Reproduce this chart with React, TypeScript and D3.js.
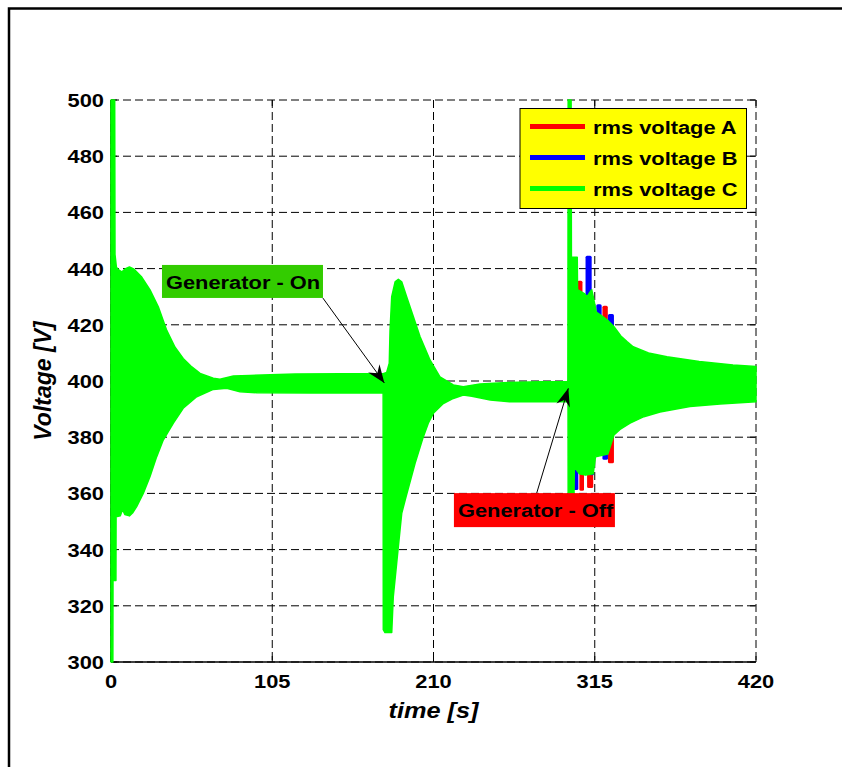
import React from 'react'
import * as d3 from 'd3'

const width = 842
const height = 767
const plot = { left: 111, right: 756, top: 100, bottom: 662 }

const xTicks = [0, 105, 210, 315, 420]
const yTicks = [300, 320, 340, 360, 380, 400, 420, 440, 460, 480, 500]

// envelope of the fast oscillation, phase C (the one on top) - [time s, volts]
const upperC = [
  [0, 500], [2.4, 500], [2.6, 445], [3.5, 440.5], [5, 439.5], [7, 438.8], [9.5, 440], [12, 440.6],
  [15, 439.8], [20, 437], [25.4, 432.4], [30.8, 426.4], [36.3, 418], [41.7, 412], [47, 408],
  [52, 405.3], [58, 402.7], [66.6, 401], [71, 400.6], [79.7, 401.8], [90.5, 402], [120, 402.5],
  [150, 402.6], [177.2, 402.6], [179.5, 403], [181.2, 406.3], [181.7, 418], [182.8, 430],
  [185, 435.3], [187.1, 436.2], [189.3, 435.3], [192.5, 430], [196.9, 422.9], [201.2, 415.8],
  [207.7, 407.5], [214.2, 401.5], [222.9, 398.6], [229.4, 398], [240.3, 398.9], [255.4, 399.4],
  [280, 399.7], [297.5, 399.8], [297.7, 500], [299.6, 500], [299.8, 444], [303.6, 444],
  [303.8, 432.5], [308.5, 431], [310, 430], [313, 432.5], [314, 430], [316, 424.5], [320, 423],
  [324, 421.3], [328, 419], [332, 416], [336, 414], [340, 412.2], [350, 410], [362, 408.6],
  [383, 406.9], [405, 405.7], [420, 405.2],
]

const lowerC = [
  [0, 300], [1.2, 300], [1.3, 329], [3.2, 329], [3.3, 351.7], [6, 352], [7.5, 354.3], [9, 352.5],
  [12, 352], [14, 353], [16.7, 355.3], [21, 360], [25.4, 366], [29.7, 373], [34, 379],
  [40.6, 385], [47, 390.3], [55.8, 394.4], [66.6, 397], [75.3, 397.4], [84, 396.2], [95, 395.8],
  [130, 395.7], [177.2, 395.7], [177.3, 311.5], [178.4, 310.5], [182.8, 310.5], [183.8, 323.2],
  [186, 335.1], [188.2, 347], [189.3, 352.9], [192.1, 358.8], [198, 370.7], [203.4, 380.2],
  [206.6, 385], [209.9, 388.5], [216.4, 392], [222.9, 393.8], [229.4, 395], [235, 394.6],
  [247, 393.2], [259.5, 392.6], [297.6, 392.6], [297.7, 360], [301.5, 360], [301.7, 369.5],
  [305, 367], [309, 366.5], [314, 367], [315.5, 373], [323.5, 374], [327.5, 380.8], [332, 383],
  [338, 385], [347, 387.3], [357.5, 389], [377, 390.9], [396.6, 391.8], [420, 392.6],
]

// where phases A and B stick out of C after the generator trips - [t start, t end, peak volts]
const spikesA = [
  [303.6, 307, 435.7], [320, 323.5, 426.8],
  [305, 308, 360.9], [310, 314, 361.9], [323.6, 327.5, 370.7],
]
const spikesB = [
  [309, 313, 444.6], [316, 319.5, 427.3], [323.6, 327.5, 423.8],
  [301, 304.3, 361.2], [312, 314.5, 366.5], [320, 323.6, 372], [298.5, 300, 348],
]

const seriesNames = ['rms voltage A', 'rms voltage B', 'rms voltage C']
const seriesColors = ['#ff0000', '#0000ff', '#00ff00']

const notes = [
  { label: 'Generator - On', fill: '#33cc00', t: 33.2, v: 441.3, w: 161, h: 33, tailT: 138, tailV: 429.5, tipT: 178, tipV: 399.3 },
  { label: 'Generator - Off', fill: '#ff0000', t: 223.3, v: 360.1, w: 161, h: 34, tailT: 277.2, tailV: 360.1, tipT: 297.8, tipV: 397.4 },
]

const font = '"Liberation Sans", Arial, Helvetica, sans-serif'

// the picture's lettering is a bit wider than Arial, so stretch it sideways
function Label({ x, y, anchor = 'start', size = 19, italic = false, children }) {
  return (
    <text
      transform={`translate(${x},${y}) scale(1.15,1)`}
      textAnchor={anchor}
      fontFamily={font}
      fontWeight="bold"
      fontStyle={italic ? 'italic' : 'normal'}
      fontSize={size}
      fill="#000"
    >
      {children}
    </text>
  )
}

function arrowHead(x0, y0, x1, y1) {
  const a = Math.atan2(y1 - y0, x1 - x0)
  const len = 18
  const half = 7
  const notch = 6
  const ux = Math.cos(a)
  const uy = Math.sin(a)
  const bx = x1 - ux * len
  const by = y1 - uy * len
  const p1 = [bx - uy * half, by + ux * half]
  const p2 = [bx + uy * half, by - ux * half]
  const pn = [x1 - ux * (len - notch), y1 - uy * (len - notch)]
  return `M${x1},${y1}L${p1[0]},${p1[1]}L${pn[0]},${pn[1]}L${p2[0]},${p2[1]}Z`
}

export default function App() {
  const x = d3.scaleLinear().domain([0, 420]).range([plot.left, plot.right])
  const y = d3.scaleLinear().domain([300, 500]).range([plot.bottom, plot.top])

  const line = d3
    .line()
    .x(d => x(d[0]))
    .y(d => y(d[1]))
  const band = line(upperC.concat(lowerC.slice().reverse())) + 'Z'

  const spikeRects = (spikes, color) =>
    spikes.map((s, i) => {
      const top = y(Math.max(s[2], 400))
      const bottom = y(Math.min(s[2], 400))
      return (
        <rect
          key={color + i}
          x={x(s[0])}
          width={x(s[1]) - x(s[0])}
          y={top}
          height={bottom - top}
          rx={1.5}
          fill={color}
        />
      )
    })

  const grid = { stroke: '#000', strokeWidth: 1, strokeDasharray: '8,4' }

  return (
    <svg
      width={width}
      height={height}
      style={{ position: 'absolute', left: 0, top: 0, background: '#fff' }}
    >
      <rect x={0} y={0} width={width} height={height} fill="#fff" />
      <rect x={9} y={8.5} width={width + 20} height={height + 20} fill="none" stroke="#000" strokeWidth={2.5} />

      {/* grid */}
      {yTicks.map(v => (
        <line key={'gy' + v} x1={plot.left} x2={plot.right} y1={y(v)} y2={y(v)} {...grid} />
      ))}
      {xTicks.map(t => (
        <line key={'gx' + t} x1={x(t)} x2={x(t)} y1={plot.top} y2={plot.bottom} {...grid} />
      ))}

      {/* ticks on all four sides, pointing in */}
      {xTicks.map(t => (
        <g key={'tx' + t} stroke="#000">
          <line x1={x(t)} x2={x(t)} y1={plot.bottom} y2={plot.bottom - 6} />
          <line x1={x(t)} x2={x(t)} y1={plot.top} y2={plot.top + 6} />
        </g>
      ))}
      {yTicks.map(v => (
        <g key={'ty' + v} stroke="#000">
          <line x1={plot.left} x2={plot.left + 6} y1={y(v)} y2={y(v)} />
          <line x1={plot.right} x2={plot.right - 6} y1={y(v)} y2={y(v)} />
        </g>
      ))}

      <line x1={plot.left} x2={plot.right} y1={plot.bottom} y2={plot.bottom} stroke="#000" strokeWidth={1.5} />
      <line x1={plot.left} x2={plot.left} y1={plot.top} y2={plot.bottom} stroke="#000" strokeWidth={1.5} />

      {/* data */}
      <g>
        {spikeRects(spikesA, seriesColors[0])}
        {spikeRects(spikesB, seriesColors[1])}
        <path d={band} fill={seriesColors[2]} stroke={seriesColors[2]} strokeWidth={1.5} strokeLinejoin="round" />
      </g>

      {/* tick labels */}
      {xTicks.map(t => (
        <Label key={'lx' + t} x={x(t)} y={688} anchor="middle">
          {t}
        </Label>
      ))}
      {yTicks.map(v => (
        <Label key={'ly' + v} x={plot.left - 7} y={y(v) + 7} anchor="end">
          {v}
        </Label>
      ))}

      <Label x={(plot.left + plot.right) / 2} y={718} anchor="middle" size={22} italic>
        time [s]
      </Label>
      <text
        transform={`translate(51,${(plot.top + plot.bottom) / 2}) rotate(-90)`}
        textAnchor="middle"
        fontFamily={font}
        fontWeight="bold"
        fontStyle="italic"
        fontSize={23}
      >
        Voltage [V]
      </text>

      {/* annotations */}
      {notes.map(n => {
        const bx = x(n.t)
        const by = y(n.v)
        const x0 = x(n.tailT)
        const y0 = y(n.tailV)
        const x1 = x(n.tipT)
        const y1 = y(n.tipV)
        return (
          <g key={n.label}>
            <line x1={x0} y1={y0} x2={x1} y2={y1} stroke="#000" strokeWidth={1} />
            <path d={arrowHead(x0, y0, x1, y1)} fill="#000" />
            <rect x={bx} y={by} width={n.w} height={n.h} fill={n.fill} />
            <Label x={bx + 4} y={by + 24}>
              {n.label}
            </Label>
          </g>
        )
      })}

      {/* legend */}
      <g>
        <rect x={520} y={108.5} width={226.5} height={100} fill="#ffff00" stroke="#000" strokeWidth={1} />
        {seriesNames.map((name, i) => (
          <g key={name}>
            <line x1={530} x2={585} y1={126.5 + i * 31} y2={126.5 + i * 31} stroke={seriesColors[i]} strokeWidth={5} />
            <Label x={593} y={133.5 + i * 31}>
              {name}
            </Label>
          </g>
        ))}
      </g>
    </svg>
  )
}
